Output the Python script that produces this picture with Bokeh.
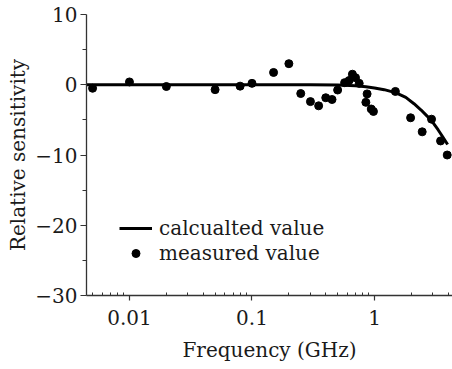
from bokeh.plotting import figure
from bokeh.models import Range1d, FixedTicker, Legend, LegendItem
from bokeh.embed import file_html
from bokeh.resources import INLINE

# calculated curve
calc_freq = [0.0045, 0.1, 0.3, 0.5, 0.7, 0.85, 1.0, 1.2, 1.5, 1.8, 2.1, 2.4, 2.7, 3.0, 3.3, 3.6, 3.95]
calc_val = [0.0, 0.0, 0.0, -0.05, -0.15, -0.3, -0.45, -0.7, -1.15, -1.8, -2.7, -3.6, -4.5, -5.4, -6.4, -7.4, -8.5]

# measured points
meas_freq = [0.005, 0.01, 0.02, 0.05, 0.08, 0.1, 0.15, 0.2, 0.25, 0.3, 0.35, 0.40, 0.45, 0.50,
             0.57, 0.62, 0.66, 0.70, 0.75, 0.85, 0.87, 0.94, 0.98, 1.48, 1.97, 2.45, 2.92, 3.46, 3.92]
meas_val = [-0.5, 0.4, -0.25, -0.7, -0.2, 0.2, 1.75, 3.0, -1.25, -2.4, -3.0, -1.85, -2.1, -0.75,
            0.3, 0.6, 1.5, 1.0, 0.2, -2.5, -1.3, -3.45, -3.8, -0.95, -4.7, -6.7, -4.9, -8.0, -10.0]

x_ticks = [0.01, 0.1, 1]
x_tick_labels = ["0.01", "0.1", "1"]
y_ticks = [-30, -20, -10, 0, 10]
y_tick_labels = ["\u221230", "\u221220", "\u221210", "0", "10"]
y_minor = [-25, -15, -5, 5]
x_minor = [m * 10.0 ** e for e in (-3, -2, -1, 0) for m in range(2, 10)]

FONT = "DejaVu Serif"
TXT = "#1a1a1a"

p = figure(width=452, height=369, x_axis_type="log",
           x_range=Range1d(0.00446, 4.33), y_range=Range1d(-30, 10),
           output_backend="svg", toolbar_location=None,
           min_border_left=86, min_border_right=0, min_border_top=14, min_border_bottom=74)
p.outline_line_color = None
p.xgrid.visible = False
p.ygrid.visible = False
p.background_fill_color = "white"
p.border_fill_color = "white"

line_r = p.line(calc_freq, calc_val, line_color="black", line_width=3)
dot_r = p.scatter(meas_freq, meas_val, size=8, fill_color="black", line_color="black")

xa = p.xaxis[0]
xa.ticker = FixedTicker(ticks=x_ticks, minor_ticks=x_minor)
xa.major_label_overrides = {t: l for t, l in zip(x_ticks, x_tick_labels)}
xa.axis_label = "Frequency (GHz)"
ya = p.yaxis[0]
ya.ticker = FixedTicker(ticks=y_ticks, minor_ticks=y_minor)
ya.major_label_overrides = {t: l for t, l in zip(y_ticks, y_tick_labels)}
ya.axis_label = "Relative sensitivity"

for ax in (xa, ya):
    ax.axis_line_color = "#333333"
    ax.axis_line_width = 1.3
    ax.major_tick_line_color = "#333333"
    ax.minor_tick_line_color = "#333333"
    ax.major_tick_line_width = 1.2
    ax.major_label_text_font = FONT
    ax.major_label_text_font_size = "20px"
    ax.major_label_text_color = TXT
    ax.axis_label_text_font = FONT
    ax.axis_label_text_font_size = "20px"
    ax.axis_label_text_font_style = "normal"
    ax.axis_label_text_color = TXT

xa.major_tick_in = 0
xa.major_tick_out = 5
xa.minor_tick_in = 3
xa.minor_tick_out = 0
xa.major_label_standoff = 9
xa.axis_label_standoff = 10

ya.major_tick_in = 0
ya.major_tick_out = 6
ya.minor_tick_in = 0
ya.minor_tick_out = 4
ya.major_label_standoff = 3
ya.axis_label_standoff = 2

legend = Legend(items=[LegendItem(label="calcualted value", renderers=[line_r]),
                       LegendItem(label="measured value", renderers=[dot_r])],
                location=(33, 30), orientation="vertical")
legend.background_fill_alpha = 0
legend.border_line_color = None
legend.padding = 0
legend.margin = 0
legend.glyph_width = 33
legend.glyph_height = 20
legend.label_height = 20
legend.spacing = 1
legend.label_standoff = 7
legend.label_text_font = FONT
legend.label_text_font_size = "20px"
legend.label_text_color = TXT
p.add_layout(legend, "center")

open("out.html", "w").write(file_html(p, INLINE))
